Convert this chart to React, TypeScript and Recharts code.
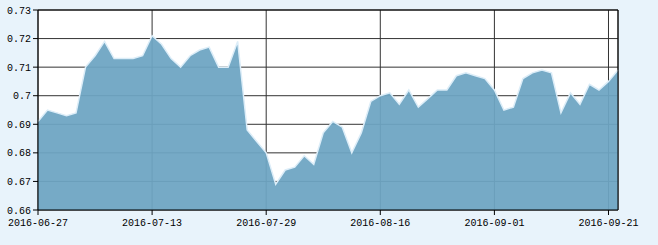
import React from 'react';
import { AreaChart, Area, XAxis, YAxis, CartesianGrid, ReferenceLine } from 'recharts';

const dates: string[] = [
  '2016-06-27', '2016-06-28', '2016-06-29', '2016-06-30',
  '2016-07-01', '2016-07-04', '2016-07-05', '2016-07-06', '2016-07-07', '2016-07-08',
  '2016-07-11', '2016-07-12', '2016-07-13', '2016-07-14', '2016-07-15',
  '2016-07-18', '2016-07-19', '2016-07-20', '2016-07-21', '2016-07-22',
  '2016-07-25', '2016-07-26', '2016-07-27', '2016-07-28', '2016-07-29',
  '2016-08-01', '2016-08-02', '2016-08-03', '2016-08-04', '2016-08-05',
  '2016-08-08', '2016-08-09', '2016-08-10', '2016-08-11', '2016-08-12',
  '2016-08-15', '2016-08-16', '2016-08-17', '2016-08-18', '2016-08-19',
  '2016-08-22', '2016-08-23', '2016-08-24', '2016-08-25', '2016-08-26',
  '2016-08-29', '2016-08-30', '2016-08-31', '2016-09-01', '2016-09-02',
  '2016-09-05', '2016-09-06', '2016-09-07', '2016-09-08', '2016-09-09',
  '2016-09-12', '2016-09-13', '2016-09-14', '2016-09-19', '2016-09-20',
  '2016-09-21', '2016-09-22',
];

const values: number[] = [
  0.691, 0.695, 0.694, 0.693, 0.694, 0.710, 0.714, 0.719, 0.713, 0.713,
  0.713, 0.714, 0.721, 0.718, 0.713, 0.710, 0.714, 0.716, 0.717, 0.710,
  0.710, 0.719, 0.688, 0.684, 0.680, 0.669, 0.674, 0.675, 0.679, 0.676,
  0.687, 0.691, 0.689, 0.680, 0.687, 0.698, 0.700, 0.701, 0.697, 0.702,
  0.696, 0.699, 0.702, 0.702, 0.707, 0.708, 0.707, 0.706, 0.702, 0.695,
  0.696, 0.706, 0.708, 0.709, 0.708, 0.694, 0.701, 0.697, 0.704, 0.702,
  0.705, 0.709,
];

const yTicks: number[] = [0.66, 0.67, 0.68, 0.69, 0.7, 0.71, 0.72, 0.73];

const data = dates.map((d, i) => ({ date: d, value: values[i] }));

const font = { fontFamily: 'Liberation Mono', fontSize: 10, fill: '#000' };

export default function App() {
  return (
    <div style={{ position: 'absolute', left: 0, top: 0, width: 658, height: 245, background: '#e8f3fb' }}>
      <AreaChart width={658} height={245} data={data} margin={{ top: 10, right: 40, bottom: 15, left: 0 }}>
        <CartesianGrid stroke="#333" strokeWidth={1} fill="#fff" />
        <XAxis
          dataKey="date"
          interval={11}
          tickSize={5}
          tickMargin={4}
          height={20}
          stroke="#000"
          tick={font}
          tickLine={{ stroke: '#000' }}
          axisLine={{ stroke: '#000' }}
        />
        <YAxis
          domain={[0.66, 0.73]}
          ticks={yTicks}
          width={38}
          tickSize={5}
          stroke="#000"
          tick={font}
          tickFormatter={(v: number) => String(Number(v.toFixed(2)))}
          axisLine={{ stroke: '#000' }}
          tickLine={{ stroke: '#000' }}
          allowDataOverflow
        />
        <Area
          type="linear"
          dataKey="value"
          stroke="#dcedf8"
          strokeWidth={1.5}
          fill="#6da5c2"
          fillOpacity={0.94}
          isAnimationActive={false}
          baseValue={0.66}
        />
        <ReferenceLine y={0.73} stroke="#000" />
        <ReferenceLine x={dates[dates.length - 1]} stroke="#000" />
      </AreaChart>
    </div>
  );
}
